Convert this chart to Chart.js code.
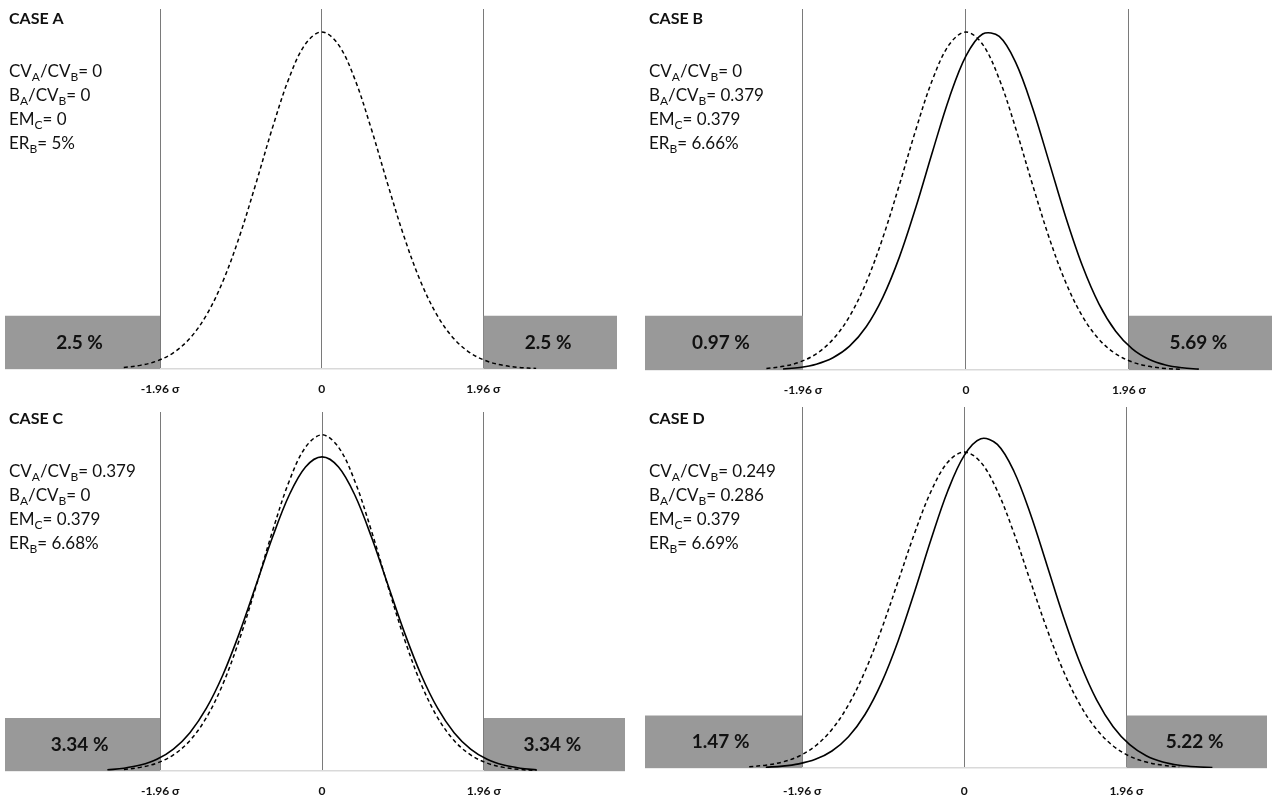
<!DOCTYPE html>
<html>
<head>
<meta charset="utf-8">
<script src="https://cdn.jsdelivr.net/npm/chart.js@4.4.1/dist/chart.umd.min.js"></script>
<style>
  html, body { margin: 0; background: #fff; }
  body { width: 1272px; height: 801px; position: relative; overflow: hidden; }
  canvas { position: absolute; }
</style>
</head>
<body>
<canvas id="caseA"></canvas>
<canvas id="caseB"></canvas>
<canvas id="caseC"></canvas>
<canvas id="caseD"></canvas>
<script>
// values (x along the sigma axis, y = curve height)
const caseTitles = ['CASE A', 'CASE B', 'CASE C', 'CASE D']
const caseNotes = [
    ['CV_A/CV_B= 0', 'B_A/CV_B= 0', 'EM_C= 0', 'ER_B= 5%'],
    ['CV_A/CV_B= 0', 'B_A/CV_B= 0.379', 'EM_C= 0.379', 'ER_B= 6.66%'],
    ['CV_A/CV_B= 0.379', 'B_A/CV_B= 0', 'EM_C= 0.379', 'ER_B= 6.68%'],
    ['CV_A/CV_B= 0.249', 'B_A/CV_B= 0.286', 'EM_C= 0.379', 'ER_B= 6.69%']
]
const tickValues = [-1.96, 0, 1.96]
const tickLabels = ['-1.96 σ', '0', '1.96 σ']
const tailLabels = [['2.5 %', '2.5 %'], ['0.97 %', '5.69 %'], ['3.34 %', '3.34 %'], ['1.47 %', '5.22 %']]
const tailHeight = [0.063, 0.064, 0.063, 0.062]

// dashed reference curve (cases A, B, C)
const xRef = [-2.4, -2.2, -2, -1.8, -1.6, -1.4, -1.2, -1, -0.8, -0.6, -0.4, -0.2, 0, 0.2, 0.4, 0.6, 0.8, 1, 1.2, 1.4, 1.6, 1.8, 2, 2.2, 2.4, 2.6]
const yRef = [0.0018, 0.0043, 0.0094, 0.0191, 0.0361, 0.0634, 0.1033, 0.1561, 0.2188, 0.2845, 0.3433, 0.3842, 0.3989, 0.3842, 0.3433, 0.2845, 0.2188, 0.1561, 0.1033, 0.0634, 0.0361, 0.0191, 0.0094, 0.0043, 0.0018, 0.0007]

// case B solid curve (shifted right)
const xB = [-2.2, -2, -1.8, -1.6, -1.4, -1.2, -1, -0.8, -0.6, -0.4, -0.2, 0, 0.2, 0.4, 0.6, 0.8, 1, 1.2, 1.4, 1.6, 1.8, 2, 2.2, 2.4, 2.6, 2.8]
const yB = [0.0012, 0.003, 0.0069, 0.0145, 0.0282, 0.0511, 0.0858, 0.1335, 0.1929, 0.2585, 0.3214, 0.3706, 0.3965, 0.3936, 0.3624, 0.3095, 0.2453, 0.1803, 0.123, 0.0778, 0.0457, 0.0249, 0.0126, 0.0059, 0.0026, 0.001]

// case C solid curve (wider, lower) - same shape as the case D dashed curve
const xWide = [-2.6, -2.4, -2.2, -2, -1.8, -1.6, -1.4, -1.2, -1, -0.8, -0.6, -0.4, -0.2, 0, 0.2, 0.4, 0.6, 0.8, 1, 1.2, 1.4, 1.6, 1.8, 2, 2.2, 2.4, 2.6]
const yWide = [0.0014, 0.0033, 0.007, 0.0139, 0.026, 0.0455, 0.0745, 0.1142, 0.1639, 0.2203, 0.2773, 0.3269, 0.3608, 0.3728, 0.3608, 0.3269, 0.2773, 0.2203, 0.1639, 0.1142, 0.0745, 0.0455, 0.026, 0.0139, 0.007, 0.0033, 0.0014]

// case D solid curve (taller, shifted right)
const xD = [-2.4, -2.2, -2, -1.8, -1.6, -1.4, -1.2, -1, -0.8, -0.6, -0.4, -0.2, 0, 0.2, 0.4, 0.6, 0.8, 1, 1.2, 1.4, 1.6, 1.8, 2, 2.2, 2.4, 2.6, 2.8, 3]
const yD = [0.0009, 0.0022, 0.0049, 0.0102, 0.0201, 0.0369, 0.0631, 0.1007, 0.1499, 0.2083, 0.2701, 0.3268, 0.3689, 0.3886, 0.3819, 0.3502, 0.2997, 0.2393, 0.1783, 0.1239, 0.0804, 0.0487, 0.0275, 0.0145, 0.0071, 0.0033, 0.0014, 0.0006]

const dashedX = [xRef, xRef, xRef, xWide]
const dashedY = [yRef, yRef, yRef, yWide]
const solidX = [null, xB, xWide, xD]
const solidY = [null, yB, yWide, yD]

// canvas placement
const panels = [
    { id: 'caseA', left: 5, top: 0, width: 612, height: 400, padTop: 9, axisH: 31, pad: 13, xMin: -3.84, xMax: 3.58 },
    { id: 'caseB', left: 645, top: 0, width: 627, height: 400, padTop: 9, axisH: 30, pad: 13, xMin: -3.86, xMax: 3.68 },
    { id: 'caseC', left: 5, top: 400, width: 620, height: 401, padTop: 12, axisH: 30, pad: 13, xMin: -3.84, xMax: 3.67 },
    { id: 'caseD', left: 645, top: 400, width: 622, height: 401, padTop: 7, axisH: 33, pad: 16, xMin: -3.86, xMax: 3.66 }
]
const yMax = 0.426
const textFont = 'Lato, "Open Sans", sans-serif'

Chart.defaults.font.family = textFont

function pts(xs, ys) {
    return xs.map((x, i) => ({ x: x, y: ys[i] }))
}

function richText(ctx, s, x, y) {
    let cx = x
    let i = 0
    while (i < s.length) {
        if (s[i] === '_') {
            ctx.font = '12px ' + textFont
            ctx.fillText(s[i + 1], cx, y + 4)
            cx += ctx.measureText(s[i + 1]).width
            i += 2
        } else {
            let run = ''
            while (i < s.length && s[i] !== '_') { run += s[i]; i++ }
            ctx.font = '17px ' + textFont
            ctx.fillText(run, cx, y)
            cx += ctx.measureText(run).width
        }
    }
}

panels.forEach((p, k) => {
    const cv = document.getElementById(p.id)
    cv.width = p.width
    cv.height = p.height
    cv.style.left = p.left + 'px'
    cv.style.top = p.top + 'px'

    const datasets = [{
        data: pts(dashedX[k], dashedY[k]),
        borderColor: '#000',
        borderWidth: 1.5,
        borderDash: [4, 3],
        pointRadius: 0,
        fill: false,
        tension: 0.35,
        order: 1
    }]
    if (solidX[k]) {
        datasets.push({
            data: pts(solidX[k], solidY[k]),
            borderColor: '#000',
            borderWidth: 1.6,
            pointRadius: 0,
            fill: false,
            tension: 0.35,
            order: 0
        })
    }
    // grey tail boxes
    datasets.push({
        data: [{ x: p.xMin, y: tailHeight[k] }, { x: tickValues[0], y: tailHeight[k] }],
        borderWidth: 0,
        pointRadius: 0,
        backgroundColor: '#999999',
        fill: 'origin',
        order: 5
    })
    datasets.push({
        data: [{ x: tickValues[2], y: tailHeight[k] }, { x: p.xMax, y: tailHeight[k] }],
        borderWidth: 0,
        pointRadius: 0,
        backgroundColor: '#999999',
        fill: 'origin',
        order: 5
    })

    const labelsPlugin = {
        id: 'labels' + k,
        afterDatasetsDraw(chart) {
            const ctx = chart.ctx
            const xs = chart.scales.x
            const ys = chart.scales.y
            ctx.save()
            ctx.fillStyle = '#111'
            ctx.textAlign = 'center'
            ctx.textBaseline = 'middle'
            ctx.font = 'bold 19px ' + textFont
            const yc = ys.getPixelForValue(tailHeight[k] / 2)
            ctx.fillText(tailLabels[k][0], (xs.left + xs.getPixelForValue(tickValues[0])) / 2 - 3, yc)
            ctx.fillText(tailLabels[k][1], (xs.right + xs.getPixelForValue(tickValues[2])) / 2 - 2, yc)

            ctx.textAlign = 'left'
            ctx.textBaseline = 'alphabetic'
            ctx.font = 'bold 16px ' + textFont
            ctx.fillText(caseTitles[k], 4, 24)
            caseNotes[k].forEach((s, i) => richText(ctx, s, 4, 77 + 24 * i))
            ctx.restore()
        }
    }

    new Chart(cv, {
        type: 'line',
        data: { datasets: datasets },
        options: {
            responsive: false,
            animation: false,
            devicePixelRatio: 1,
            layout: { padding: { top: p.padTop, left: 0, right: 0, bottom: 0 } },
            plugins: { legend: { display: false }, tooltip: { enabled: false } },
            scales: {
                x: {
                    type: 'linear',
                    min: p.xMin,
                    max: p.xMax,
                    z: 1,
                    afterBuildTicks: s => { s.ticks = tickValues.map(v => ({ value: v })) },
                    afterFit: s => { s.height = p.axisH },
                    ticks: {
                        autoSkip: false,
                        maxRotation: 0,
                        padding: p.pad,
                        color: '#111',
                        font: { size: 12, weight: 'bold' },
                        callback: (v) => tickLabels[tickValues.indexOf(v)]
                    },
                    grid: { color: '#7a7a7a', lineWidth: 1, drawTicks: false },
                    border: { display: true, color: '#d9d9d9', width: 1.5 }
                },
                y: { display: false, min: 0, max: yMax }
            }
        },
        plugins: [labelsPlugin]
    })
})
</script>
</body>
</html>
